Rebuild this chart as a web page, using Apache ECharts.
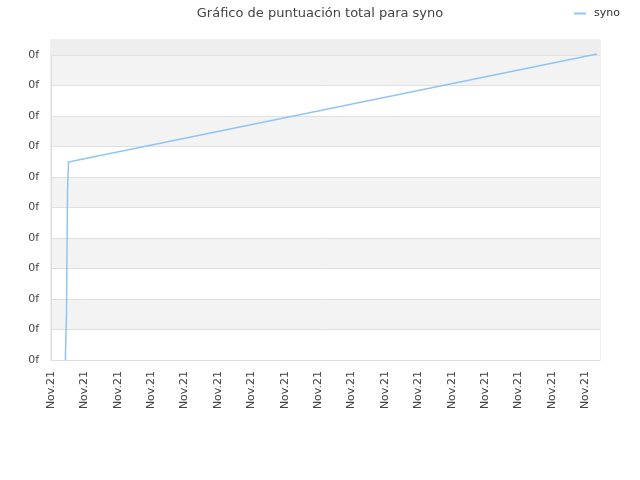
<!DOCTYPE html>
<html><head><meta charset="utf-8">
<script src="https://cdn.jsdelivr.net/npm/echarts@6/dist/echarts.min.js"></script>
<style>html,body{margin:0;padding:0;background:#fff}#c{width:640px;height:480px}</style>
</head><body><div id="c"></div>
<script>
var titleText = 'Gráfico de puntuación total para syno';
var seriesName = 'syno';
var xTickLabel = 'Nov.21';
var yTickLabel = '0f';
var xValues = [0.434, 0.434, 0.464, 0.464, 0.494, 0.494, 0.524, 0.524, 0.539, 16.35];
var yValues = [0.00, 0.23, 0.26, 1.48, 1.51, 5.48, 5.51, 6.49, 6.52, 10.03];
var xMax = 16.44, yMax = 10.49;

var data = xValues.map(function(x, i){ return [x, yValues[i]]; });
var chart = echarts.init(document.getElementById('c'));
chart.setOption({
  animation: false,
  textStyle: {fontFamily: 'DejaVu Sans'},
  title: {text: titleText, left: 'center', top: 2, textStyle: {fontSize: 13, fontWeight: 'normal', color: '#444', fontFamily: 'DejaVu Sans'}},
  legend: {right: 15, top: 3, itemWidth: 12, itemHeight: 2, itemGap: 8, icon: 'rect',
    textStyle: {fontSize: 11, color: '#333', fontFamily: 'DejaVu Sans', padding: [0, 0, 0, 3]}, data: [seriesName]},
  grid: {left: 51, right: 40, top: 40, bottom: 120, show: true, borderColor: '#ddd', borderWidth: 1, backgroundColor: 'transparent'},
  xAxis: {type: 'value', min: 0, max: xMax, interval: 1,
    axisLine: {show: true, lineStyle: {color: '#ddd'}}, axisTick: {show: false}, splitLine: {show: false},
    axisLabel: {rotate: 90, fontSize: 11, color: '#444', margin: 11, showMaxLabel: false,
      formatter: function(){ return xTickLabel; }}},
  yAxis: {type: 'value', min: 0, max: yMax, interval: 1,
    axisLine: {show: true, lineStyle: {color: '#ddd'}}, axisTick: {show: false},
    splitLine: {show: true, lineStyle: {color: '#e0e0e0'}},
    splitArea: {show: true, areaStyle: {color: ['#ffffff', '#f3f3f3']}},
    axisLabel: {fontSize: 11, color: '#444', margin: 12, showMaxLabel: false,
      formatter: function(){ return yTickLabel; }}},
  series: [{name: seriesName, type: 'line', data: data, symbol: 'none',
    lineStyle: {color: '#90c4f4', width: 1.5}, itemStyle: {color: '#90c4f4'},
    markArea: {silent: true, itemStyle: {color: '#eeeeee'}, data: [[{yAxis: 10}, {yAxis: yMax}]]}}]
});
</script></body></html>
